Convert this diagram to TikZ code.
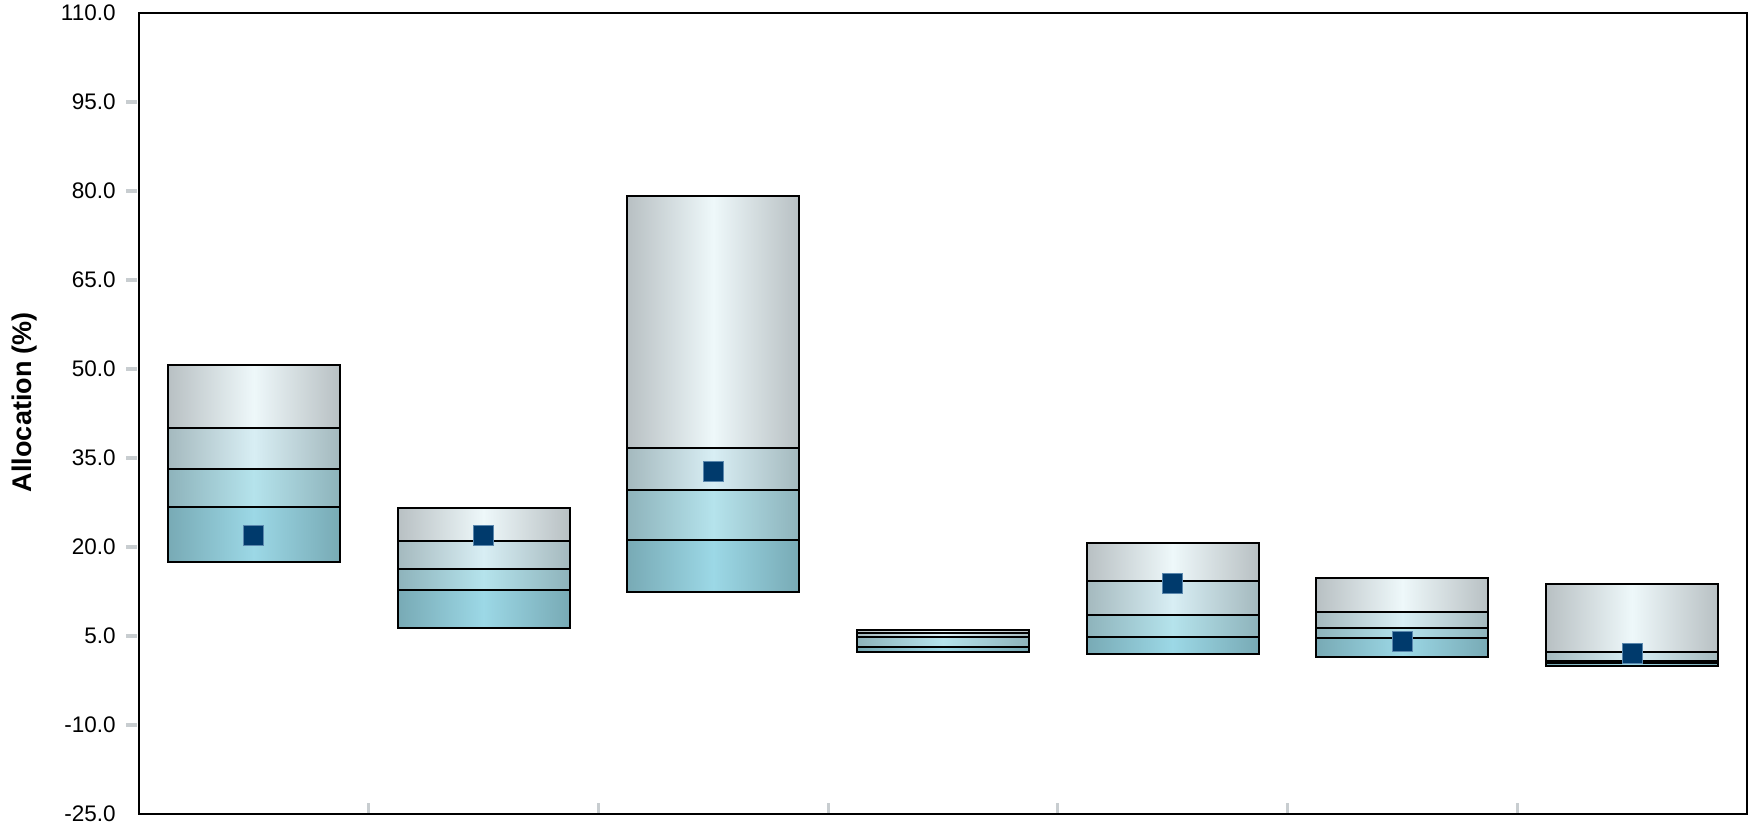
\documentclass[tikz,border=0pt]{standalone}
\usepackage{fontspec}
\setmainfont{Liberation Sans}
\definecolor{gA1}{HTML}{B8C0C3}\definecolor{gA2}{HTML}{EEF8FA}
\definecolor{gB1}{HTML}{A4B9BE}\definecolor{gB2}{HTML}{D8EEF4}
\definecolor{gC1}{HTML}{8EB3BB}\definecolor{gC2}{HTML}{B5E3EC}
\definecolor{gD1}{HTML}{78AAB5}\definecolor{gD2}{HTML}{9CD8E6}
\definecolor{mkfill}{HTML}{003A6C}\definecolor{mkedge}{HTML}{5A87AD}
\definecolor{tickgray}{HTML}{C8CDD0}
\tikzset{
  boxline/.style={draw=black,line width=1pt},
  axisline/.style={draw=black,line width=1.1pt},
  ytickmark/.style={draw=tickgray,line width=2pt},
  xtickmark/.style={draw=tickgray,line width=1.5pt},
  ticklabel/.style={anchor=east,inner sep=0pt,font=\fontsize{11.25}{13}\selectfont},
  marker/.style={rectangle,fill=mkfill,draw=mkedge,line width=0.4pt,minimum size=10pt,inner sep=0pt},
  bandD/.style={left color=gD1,right color=gD1,middle color=gD2},
  bandC/.style={left color=gC1,right color=gC1,middle color=gC2},
  bandB/.style={left color=gB1,right color=gB1,middle color=gB2},
  bandA/.style={left color=gA1,right color=gA1,middle color=gA2},
}
\newcommand{\pctbox}[6]{%
  \shade[bandD] ({#1-86},#2) rectangle ({#1+86},#3);
  \shade[bandC] ({#1-86},#3) rectangle ({#1+86},#4);
  \shade[bandB] ({#1-86},#4) rectangle ({#1+86},#5);
  \shade[bandA] ({#1-86},#5) rectangle ({#1+86},#6);
  \draw[boxline] ({#1-86},#3) -- ({#1+86},#3);
  \draw[boxline] ({#1-86},#4) -- ({#1+86},#4);
  \draw[boxline] ({#1-86},#5) -- ({#1+86},#5);
  \draw[boxline] ({#1-86},#2) rectangle ({#1+86},#6);
}
\begin{document}
\begin{tikzpicture}[x=0.5pt,y=0.5pt]
\useasboundingbox (0,0) rectangle (1754,821);
\fill[white] (0,0) rectangle (1754,821);
% data scope: x in px, y in data units
\begin{scope}[y=2.96667pt,yshift=77.667pt]
  % y tick marks and labels
  \foreach \v/\t in {110/110.0,95/95.0,80/80.0,65/65.0,50/50.0,35/35.0,20/20.0,5/5.0,-10/-10.0,-25/-25.0}{
    \node[ticklabel] (yl\v) at (116,\v) {\t};
  }
  \foreach \v in {95,80,65,50,35,20,5,-10}{
    \draw[ytickmark] (126,\v) -- (137,\v);
  }
  % boxes
  \pctbox{253.86}{17.4}{26.8}{33.2}{40.0}{50.67}
  \pctbox{483.57}{6.3}{12.8}{16.3}{21.06}{26.5}
  \pctbox{713.29}{12.36}{21.1}{29.6}{36.73}{79.2}
  \pctbox{943.0}{2.25}{3.23}{4.9}{5.55}{6.0}
  \pctbox{1172.71}{1.9}{4.88}{8.58}{14.3}{20.72}
  \pctbox{1402.43}{1.5}{4.6}{6.3}{9.0}{14.72}
  \pctbox{1632.14}{-0.06}{0.48}{0.82}{2.25}{13.7}
  % markers
  \node[marker] (m1) at (253.86,21.9) {};
  \node[marker] (m2) at (483.57,21.97) {};
  \node[marker] (m3) at (713.29,32.8) {};
  \node[marker] (m5) at (1172.71,13.88) {};
  \node[marker] (m6) at (1402.43,4.1) {};
  \node[marker] (m7) at (1632.14,2.08) {};
  % frame
  \draw[axisline] (139,-25) rectangle (1747,110);
\end{scope}
% x category separators
\foreach \k in {1,...,6}{
  \draw[xtickmark] ({139+229.714*\k},8) -- ({139+229.714*\k},18);
}
% axis title
\node[rotate=90,font=\bfseries\fontsize{13.5}{16}\selectfont] (ytitle) at (25,419) {Allocation (\%)};
\end{tikzpicture}
\end{document}
